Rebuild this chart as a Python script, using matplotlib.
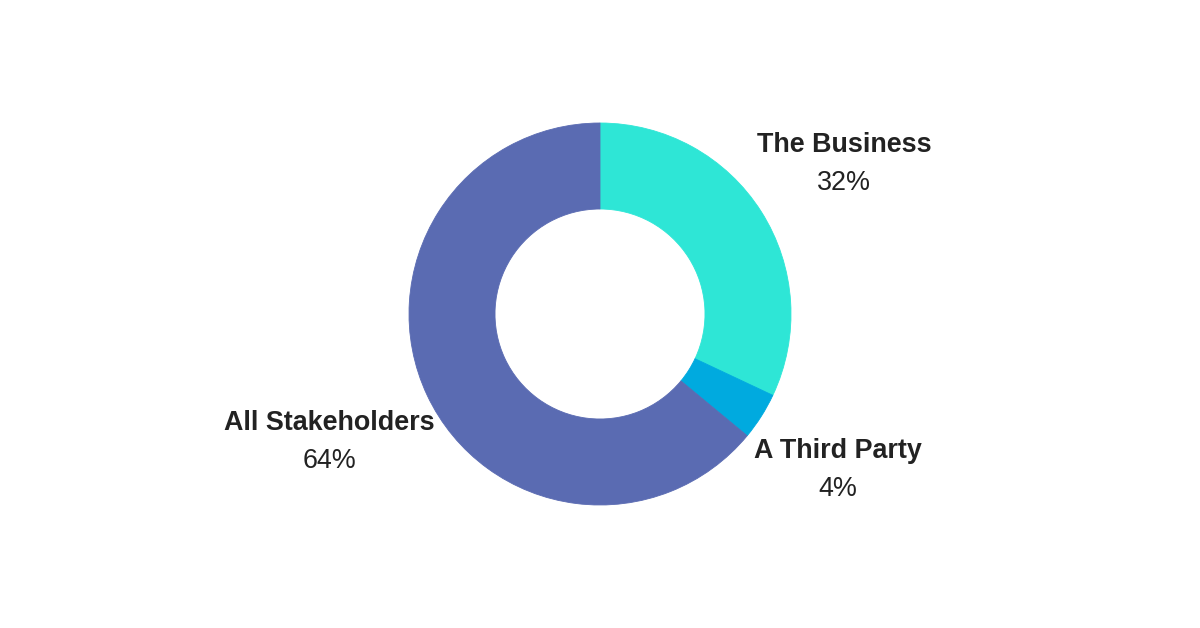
import matplotlib
matplotlib.use("Agg")
import matplotlib.pyplot as plt

labels = ["The Business", "A Third Party", "All Stakeholders"]
values = [32, 4, 64]
colors = ["#2EE6D6", "#00AADF", "#5A6BB2"]

W, H = 1200, 628
fig = plt.figure(figsize=(12, 6.28), dpi=100)
ax = fig.add_axes([0, 0, 1, 1])
wedges, _ = ax.pie(values, colors=colors, startangle=90, counterclock=False,
                   center=(600, H - 314), radius=191,
                   wedgeprops=dict(width=86, linewidth=0.6))
for w in wedges:
    w.set_edgecolor(w.get_facecolor())
ax.set_xlim(0, W)
ax.set_ylim(0, H)
ax.set_aspect("equal")
ax.axis("off")

label_pos = [(844, 145), (838, 451), (329, 423)]
for (x, y), lab, v in zip(label_pos, labels, values):
    ax.text(x, H - y, lab, ha="center", va="center", fontsize=19.4,
            fontweight="bold", family="Liberation Sans", color="#222222")
    ax.text(x, H - y - 38, f"{v}%", ha="center", va="center", fontsize=19.4,
            family="Liberation Sans", color="#222222")

fig.savefig("out.png", dpi=100, facecolor="white")
